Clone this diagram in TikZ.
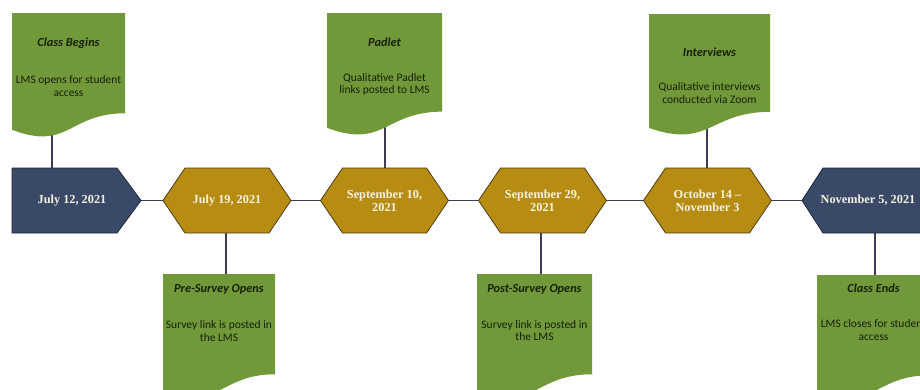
\documentclass[tikz,border=0pt]{standalone}
\usepackage{fontspec}
\setmainfont{Liberation Serif}
\newfontfamily\calib{Carlito}
\usetikzlibrary{backgrounds}
\definecolor{navy}{RGB}{58,73,104}
\definecolor{navyline}{RGB}{30,38,56}
\definecolor{gold}{RGB}{182,140,18}
\definecolor{goldline}{RGB}{80,60,25}
\definecolor{leaf}{RGB}{113,153,58}
\definecolor{linkc}{RGB}{60,60,88}
\definecolor{cream}{RGB}{246,242,226}
\definecolor{ink}{RGB}{22,32,10}
\newcommand\mydocshape[4]{%
  \fill[leaf] (#1,#2) -- ({#1+#3},#2) -- ({#1+#3},{#2+0.802*#4})
    .. controls ({#1+0.5*#3},{#2+0.802*#4}) and ({#1+0.5*#3},{#2+1.107*#4}) ..
    (#1,{#2+0.934*#4}) -- cycle;}
\tikzset{
  navyshape/.style={fill=navy, draw=navyline, line width=0.8pt, line join=miter},
  goldshape/.style={fill=gold, draw=goldline, line width=0.8pt, line join=miter},
  link/.style={draw=linkc, line width=1.1pt},
  datebox/.style={minimum width=128pt, minimum height=65pt, inner sep=0pt,
    text=cream, font=\bfseries\fontsize{12.3}{13}\selectfont, align=center},
  ttl/.style={font=\calib\bfseries\itshape\fontsize{12.3}{14}\selectfont, text=ink, inner sep=0pt},
  body/.style={font=\calib\fontsize{11.5}{12.5}\selectfont, text=ink, align=center, inner sep=0pt},
}
\begin{document}
\begin{tikzpicture}[x=1pt,y=-1pt]
\useasboundingbox (0,0) rectangle (920,389);
\clip (0,0) rectangle (920,389);

% date shapes
\path[navyshape] (12,168) -- (117,168) -- (141,200.5) -- (117,233) -- (12,233) -- cycle;
\path[goldshape] (163,200.5) -- (185,168) -- (269,168) -- (291,200.5) -- (269,233) -- (185,233) -- cycle;
\path[goldshape] (320.5,200.5) -- (342.5,168) -- (426.5,168) -- (448.5,200.5) -- (426.5,233) -- (342.5,233) -- cycle;
\path[goldshape] (478.5,200.5) -- (500.5,168) -- (584.5,168) -- (606.5,200.5) -- (584.5,233) -- (500.5,233) -- cycle;
\path[goldshape] (643.5,200.5) -- (665.5,168) -- (749.5,168) -- (771.5,200.5) -- (749.5,233) -- (665.5,233) -- cycle;
\path[navyshape] (802,200.5) -- (823,168) -- (930,168) -- (930,233) -- (823,233) -- cycle;

\node[datebox, minimum width=138pt] (d1) at (72,200.5) {July 12, 2021};
\node[datebox] (d2) at (227,200.5) {July 19, 2021};
\node[datebox] (d3) at (384.5,200.5) {September 10,\\2021};
\node[datebox] (d4) at (542.5,200.5) {September 29,\\2021};
\node[datebox] (d5) at (707.5,200.5) {October 14 --\\November 3};
\node[datebox, minimum width=132pt] (d6) at (868,200.5) {November 5, 2021};

% document boxes
\mydocshape{12}{13}{113}{125}
\mydocshape{327}{13}{115}{123}
\mydocshape{649}{14}{121}{122}
\mydocshape{163}{274}{112}{125}
\mydocshape{477}{274}{115}{125}
\mydocshape{817}{275}{113}{125}

\coordinate (c1) at (52,125);
\coordinate (c3) at (385,120);
\coordinate (c5) at (707,120);
\coordinate (c2) at (226,280);
\coordinate (c4) at (541,280);
\coordinate (c6) at (875,280);

\node[ttl] (h1) at (68.5,43) {Class Begins};
\node[body] (b1) at (68.5,86) {LMS opens for student\\access};
\node[ttl] (h3) at (384.5,42) {Padlet};
\node[body] (b3) at (384.5,84.5) {Qualitative Padlet\\links posted to LMS};
\node[ttl] (h5) at (709.5,52) {Interviews};
\node[body] (b5) at (709.5,93) {Qualitative interviews\\conducted via Zoom};
\node[ttl] (h2) at (219,289) {Pre-Survey Opens};
\node[body] (b2) at (219,331) {Survey link is posted in\\the LMS};
\node[ttl] (h4) at (534.5,289) {Post-Survey Opens};
\node[body] (b4) at (534.5,330.5) {Survey link is posted in\\the LMS};
\node[ttl] (h6) at (873.5,288) {Class Ends};
\node[body] (b6) at (873.5,330) {LMS closes for student\\access};

\begin{scope}[on background layer]
\draw[link] (d1.east) -- (d2.west);
\draw[link] (d2.east) -- (d3.west);
\draw[link] (d3.east) -- (d4.west);
\draw[link] (d4.east) -- (d5.west);
\draw[link] (d5.east) -- (d6.west);
\draw[link] (c1) -- (c1 |- d1.north);
\draw[link] (c3) -- (c3 |- d3.north);
\draw[link] (c5) -- (c5 |- d5.north);
\draw[link] (c2) -- (c2 |- d2.south);
\draw[link] (c4) -- (c4 |- d4.south);
\draw[link] (c6) -- (c6 |- d6.south);
\end{scope}
\end{tikzpicture}
\end{document}
